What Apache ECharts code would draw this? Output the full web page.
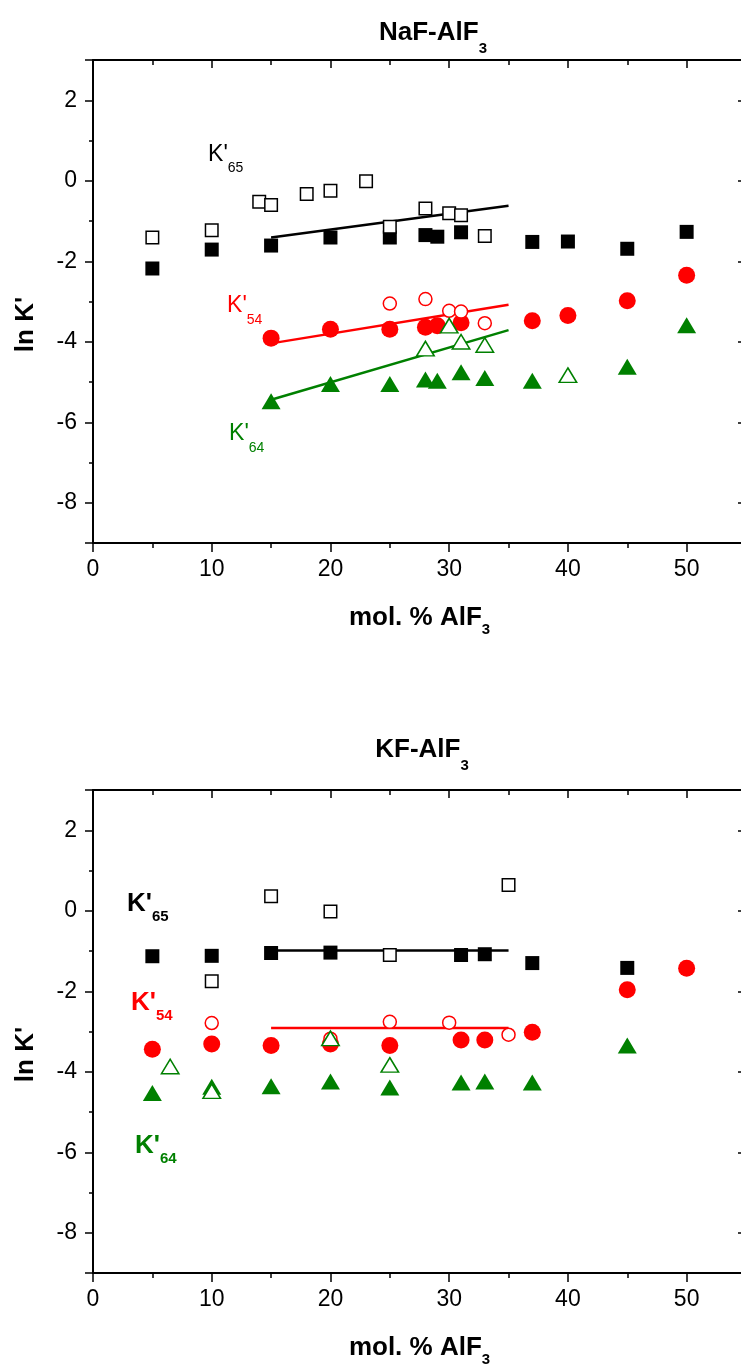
<!DOCTYPE html>
<html><head><meta charset="utf-8">
<script src="https://cdn.jsdelivr.net/npm/echarts@6/dist/echarts.min.js"></script>
<style>html,body{margin:0;padding:0;background:#fff}#c{width:741px;height:1367px}</style>
</head><body><div id="c"></div>
<script>
// ---------- Top panel: NaF-AlF3 ----------
const naf_K65_filled = [[5,-2.18],[10,-1.71],[15,-1.61],[20,-1.41],[25,-1.41],[28,-1.35],[29,-1.39],[31,-1.28],[37,-1.52],[40,-1.51],[45,-1.69],[50,-1.27]];
const naf_K65_open   = [[5,-1.41],[10,-1.23],[14,-0.52],[15,-0.60],[18,-0.33],[20,-0.25],[23,-0.01],[25,-1.14],[28,-0.69],[30,-0.81],[31,-0.86],[33,-1.37]];
const naf_K54_filled = [[15,-3.91],[20,-3.69],[25,-3.69],[28,-3.64],[29,-3.60],[31,-3.53],[37,-3.48],[40,-3.35],[45,-2.98],[50,-2.35]];
const naf_K54_open   = [[25,-3.05],[28,-2.94],[30,-3.23],[31,-3.25],[33,-3.54]];
const naf_K64_filled = [[15,-5.48],[20,-5.05],[25,-5.05],[28,-4.94],[29,-4.97],[31,-4.76],[33,-4.90],[37,-4.97],[45,-4.62],[50,-3.59]];
const naf_K64_open   = [[28,-4.17],[30,-3.60],[31,-4.00],[33,-4.08],[40,-4.83]];
const naf_fit_K65 = [[15,-1.41],[35,-0.62]];
const naf_fit_K54 = [[15,-4.04],[35,-3.08]];
const naf_fit_K64 = [[15,-5.44],[35,-3.71]];
const naf_labels = [[9.69,0.66,'65'],[11.29,-3.11,'54'],[11.46,-6.29,'64']];

// ---------- Bottom panel: KF-AlF3 ----------
const kf_K65_filled = [[5,-1.13],[10,-1.12],[15,-1.05],[20,-1.04],[31,-1.10],[33,-1.08],[37,-1.30],[45,-1.42]];
const kf_K65_open   = [[10,-1.75],[15,0.36],[20,-0.02],[25,-1.10],[35,0.64]];
const kf_K54_filled = [[5,-3.44],[10,-3.31],[15,-3.35],[20,-3.31],[25,-3.35],[31,-3.21],[33,-3.21],[37,-3.02],[45,-1.96],[50,-1.43]];
const kf_K54_open   = [[10,-2.79],[20,-3.18],[25,-2.76],[30,-2.78],[35,-3.08]];
const kf_K64_filled = [[5,-4.53],[10,-4.37],[15,-4.36],[20,-4.24],[25,-4.39],[31,-4.27],[33,-4.24],[37,-4.27],[45,-3.35]];
const kf_K64_open   = [[6.5,-3.87],[10,-4.48],[20,-3.17],[25,-3.83]];
const kf_fit_K65 = [[15,-0.99],[35,-0.99]];
const kf_fit_K54 = [[15,-2.91],[35,-2.91]];
const kf_labels = [[2.86,0.16,'65'],[3.2,-2.29,'54'],[3.54,-5.84,'64']];

const titles = ['NaF-AlF', 'KF-AlF'];
const xName = 'mol. % AlF';
const yName = "ln K'";
const xTicks = {min:0, max:55, interval:10};
const yTicks = {min:-9, max:3, splitNumber:6};

const BLACK = '#000000', RED = '#ff0000', GREEN = '#008000';
const labelColors = [BLACK, RED, GREEN];
const FONT = '"Liberation Sans", Arial, Helvetica, sans-serif';

function rich(mainSize, subSize, L, bold, color) {
  const w = bold ? 'bold' : 'normal';
  const m = {fontSize: mainSize, fontWeight: w, lineHeight: L, fontFamily: FONT};
  const s = {fontSize: subSize, fontWeight: w, lineHeight: subSize, verticalAlign: 'bottom', fontFamily: FONT};
  if (color) { m.color = color; s.color = color; }
  return {m: m, s: s};
}

const chart = echarts.init(document.getElementById('c'), null, {renderer: 'canvas'});

const grids = [
  {left: 93, top: 60, right: -5, height: 483, outerBoundsMode: 'none', containLabel: false},
  {left: 93, top: 790, right: -5, height: 483, outerBoundsMode: 'none', containLabel: false}
];

const xAxes = [], yAxes = [];
grids.forEach((g, i) => {
  xAxes.push({
    gridIndex: i, type: 'value', position: 'bottom', min: xTicks.min, max: xTicks.max, interval: xTicks.interval,
    axisLine: {show: true, onZero: false, lineStyle: {color: BLACK, width: 2}},
    axisTick: {show: true, length: 9, lineStyle: {color: BLACK, width: 1.5}},
    minorTick: {show: true, splitNumber: 2, length: 5, lineStyle: {color: BLACK, width: 1.5}},
    axisLabel: {show: true, fontSize: 23, color: BLACK, fontFamily: FONT, margin: 15, showMaxLabel: false},
    splitLine: {show: false}, minorSplitLine: {show: false},
    name: '{m|' + xName + '}{s|3}', nameLocation: 'middle', nameGap: 56,
    nameTextStyle: {color: BLACK, rich: rich(26, 15, 38, true, BLACK)}
  });
  xAxes.push({
    gridIndex: i, type: 'value', position: 'top', min: xTicks.min, max: xTicks.max, interval: xTicks.interval,
    axisLine: {show: true, onZero: false, lineStyle: {color: BLACK, width: 2}},
    axisTick: {show: true, inside: true, length: 8, lineStyle: {color: BLACK, width: 1.5}},
    minorTick: {show: true, splitNumber: 2, length: 5, lineStyle: {color: BLACK, width: 1.5}},
    axisLabel: {show: false}, splitLine: {show: false}
  });
  yAxes.push({
    gridIndex: i, type: 'value', position: 'left', min: yTicks.min, max: yTicks.max, splitNumber: yTicks.splitNumber,
    axisLine: {show: true, onZero: false, lineStyle: {color: BLACK, width: 2}},
    axisTick: {show: true, length: 8, lineStyle: {color: BLACK, width: 1.5}},
    minorTick: {show: true, splitNumber: 2, length: 4, lineStyle: {color: BLACK, width: 1.5}},
    axisLabel: {show: true, fontSize: 23, color: BLACK, fontFamily: FONT, margin: 16, showMinLabel: false, showMaxLabel: false},
    splitLine: {show: false},
    name: yName, nameLocation: 'middle', nameGap: 54, nameRotate: 90,
    nameTextStyle: {color: BLACK, fontSize: 26, fontWeight: 'bold', fontFamily: FONT, padding: [0, 46, 0, 0]}
  });
  yAxes.push({
    gridIndex: i, type: 'value', position: 'right', min: yTicks.min, max: yTicks.max, splitNumber: yTicks.splitNumber,
    axisLine: {show: true, onZero: false, lineStyle: {color: BLACK, width: 2}},
    axisTick: {show: true, inside: true, length: 8, lineStyle: {color: BLACK, width: 1.5}},
    minorTick: {show: true, splitNumber: 2, length: 4, lineStyle: {color: BLACK, width: 1.5}},
    axisLabel: {show: false}, splitLine: {show: false}
  });
});

function fitLine(data, color, gi) {
  return {type: 'line', xAxisIndex: gi*2, yAxisIndex: gi*2, data: data, symbol: 'none', z: 1,
    lineStyle: {color: color, width: 2.5, opacity: 1}, silent: true, animation: false};
}
function pts(data, symbol, size, color, open, gi, z) {
  return {type: 'scatter', xAxisIndex: gi*2, yAxisIndex: gi*2, data: data, symbol: symbol,
    symbolSize: open ? (Array.isArray(size) ? [size[0]-1.5, size[1]-1.5] : size-1.5) : size, z: z, animation: false,
    itemStyle: open ? {color: '#ffffff', borderColor: color, borderWidth: 1.5, opacity: 1} : {color: color, opacity: 1}};
}
function labelSeries(d, color, bold, gi) {
  return {type: 'scatter', xAxisIndex: gi*2, yAxisIndex: gi*2, symbolSize: 0, z: 10, silent: true, animation: false,
    itemStyle: {opacity: 1, color: color},
    data: [{value: [d[0], d[1]], sub: d[2]}],
    label: {show: true, position: 'right', distance: 0, color: color, opacity: 1,
      formatter: p => "{m|K'}{s|" + p.data.sub + "}",
      rich: bold ? rich(26, 15, 41, true, color) : rich(23, 14, 42, false, color)}};
}

const TRI = [19, 16];
const series = [
  fitLine(naf_fit_K65, BLACK, 0), fitLine(naf_fit_K54, RED, 0), fitLine(naf_fit_K64, GREEN, 0),
  pts(naf_K65_filled, 'rect', 14, BLACK, false, 0, 2),
  pts(naf_K65_open, 'rect', 14, BLACK, true, 0, 3),
  pts(naf_K54_filled, 'circle', 17, RED, false, 0, 4),
  pts(naf_K54_open, 'circle', 14.5, RED, true, 0, 5),
  pts(naf_K64_filled, 'triangle', TRI, GREEN, false, 0, 6),
  pts(naf_K64_open, 'triangle', TRI, GREEN, true, 0, 7),

  fitLine(kf_fit_K65, BLACK, 1), fitLine(kf_fit_K54, RED, 1),
  pts(kf_K65_filled, 'rect', 14, BLACK, false, 1, 2),
  pts(kf_K65_open, 'rect', 14, BLACK, true, 1, 3),
  pts(kf_K54_filled, 'circle', 17, RED, false, 1, 4),
  pts(kf_K54_open, 'circle', 14.5, RED, true, 1, 5),
  pts(kf_K64_filled, 'triangle', TRI, GREEN, false, 1, 6),
  pts(kf_K64_open, 'triangle', TRI, GREEN, true, 1, 7)
];
naf_labels.forEach((d, k) => series.push(labelSeries(d, labelColors[k], false, 0)));
kf_labels.forEach((d, k) => series.push(labelSeries(d, labelColors[k], true, 1)));

chart.setOption({
  backgroundColor: '#ffffff',
  animation: false,
  title: [
    {text: '{m|' + titles[0] + '}{s|3}', left: 433, top: 9, textAlign: 'center', padding: 0,
      textStyle: {color: BLACK, rich: rich(26, 15, 47, true, BLACK)}},
    {text: '{m|' + titles[1] + '}{s|3}', left: 422, top: 726, textAlign: 'center', padding: 0,
      textStyle: {color: BLACK, rich: rich(26, 15, 47, true, BLACK)}}
  ],
  grid: grids,
  xAxis: xAxes,
  yAxis: yAxes,
  series: series
});
</script></body></html>
